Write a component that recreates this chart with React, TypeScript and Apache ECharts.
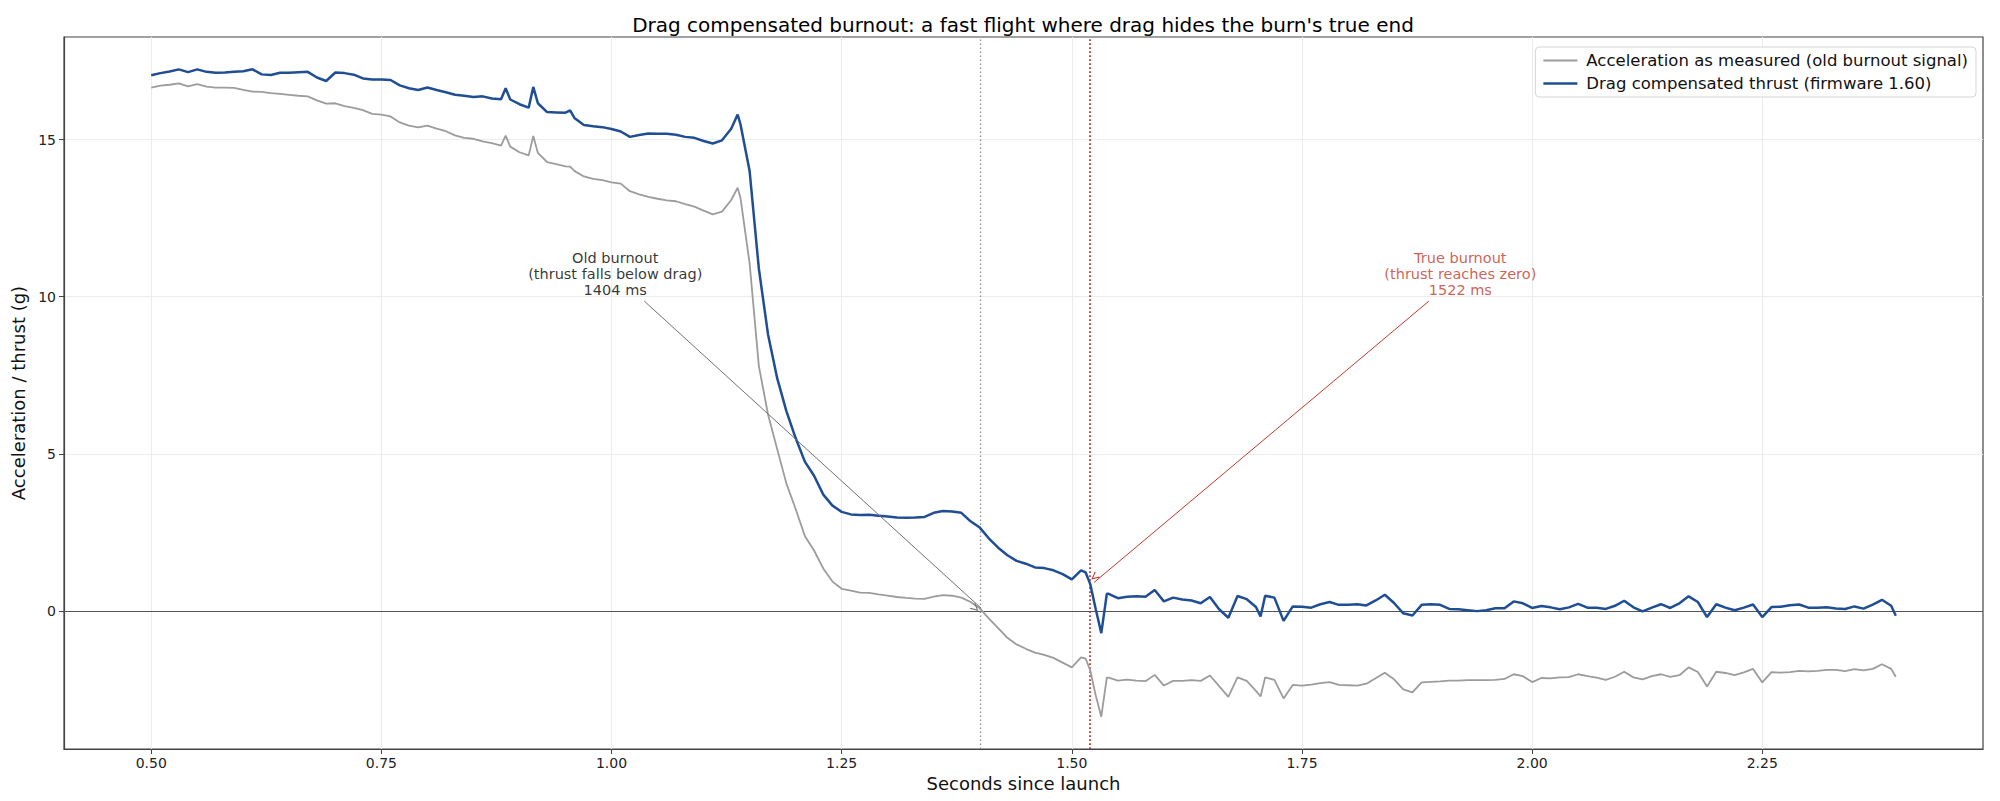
import { useEffect, useRef } from 'react'
import * as echarts from 'echarts'

const FONT = 'DejaVu Sans'
const TITLE = "Drag compensated burnout: a fast flight where drag hides the burn's true end"
const ACCEL_NAME = 'Acceleration as measured (old burnout signal)'
const THRUST_NAME = 'Drag compensated thrust (firmware 1.60)'

/** sample times, seconds since launch */
const T = [
  0.5, 0.51, 0.52, 0.53, 0.54, 0.55, 0.56, 0.57, 0.58, 0.59,
  0.6, 0.61, 0.62, 0.63, 0.64, 0.65, 0.66, 0.67, 0.68, 0.69,
  0.7, 0.71, 0.72, 0.73, 0.74, 0.75, 0.76, 0.77, 0.78, 0.79,
  0.8, 0.81, 0.82, 0.83, 0.84, 0.85, 0.86, 0.87, 0.88, 0.885,
  0.89, 0.9, 0.91, 0.915, 0.92, 0.93, 0.94, 0.95, 0.955, 0.96,
  0.97, 0.98, 0.99, 1.0, 1.01, 1.02, 1.03, 1.04, 1.05, 1.06,
  1.07, 1.08, 1.09, 1.1, 1.11, 1.12, 1.13, 1.137, 1.14, 1.15,
  1.16, 1.17, 1.18, 1.19, 1.2, 1.21, 1.22, 1.23, 1.24, 1.25,
  1.26, 1.27, 1.28, 1.29, 1.3, 1.31, 1.32, 1.33, 1.34, 1.35,
  1.36, 1.37, 1.38, 1.39, 1.4, 1.41, 1.42, 1.43, 1.44, 1.45,
  1.46, 1.47, 1.48, 1.49, 1.5, 1.51, 1.515, 1.52, 1.526, 1.532,
  1.538, 1.54, 1.55, 1.56, 1.57, 1.58, 1.59, 1.6, 1.61, 1.62,
  1.63, 1.64, 1.65, 1.66, 1.67, 1.68, 1.69, 1.7, 1.705, 1.71,
  1.72, 1.73, 1.74, 1.75, 1.76, 1.77, 1.78, 1.79, 1.8, 1.81,
  1.82, 1.83, 1.84, 1.85, 1.86, 1.87, 1.88, 1.89, 1.9, 1.91,
  1.92, 1.93, 1.94, 1.95, 1.96, 1.97, 1.98, 1.99, 2.0, 2.01,
  2.02, 2.03, 2.04, 2.05, 2.06, 2.07, 2.08, 2.09, 2.1, 2.11,
  2.12, 2.13, 2.14, 2.15, 2.16, 2.17, 2.18, 2.19, 2.2, 2.21,
  2.22, 2.23, 2.24, 2.25, 2.26, 2.27, 2.28, 2.29, 2.3, 2.31,
  2.32, 2.33, 2.34, 2.35, 2.36, 2.37, 2.38, 2.39, 2.395,
]

/** measured acceleration (g) */
const ACCEL = [
  16.66, 16.72, 16.75, 16.79, 16.7, 16.77, 16.69, 16.66, 16.66, 16.65,
  16.59, 16.53, 16.52, 16.48, 16.46, 16.43, 16.4, 16.38, 16.25, 16.15,
  16.16, 16.07, 16.01, 15.94, 15.82, 15.8, 15.74, 15.55, 15.45, 15.39,
  15.45, 15.35, 15.27, 15.14, 15.06, 15.03, 14.95, 14.89, 14.81, 15.13,
  14.78, 14.6, 14.5, 15.12, 14.58, 14.29, 14.22, 14.15, 14.14, 14.0,
  13.83, 13.75, 13.71, 13.64, 13.6, 13.36, 13.26, 13.18, 13.12, 13.07,
  13.04, 12.95, 12.87, 12.74, 12.62, 12.71, 13.08, 13.47, 13.16, 11.06,
  7.8, 6.25, 5.14, 4.05, 3.24, 2.38, 1.92, 1.35, 0.93, 0.7,
  0.64, 0.58, 0.57, 0.52, 0.48, 0.44, 0.41, 0.39, 0.38, 0.45,
  0.5, 0.48, 0.42, 0.28, 0.08, -0.25, -0.55, -0.86, -1.07, -1.21,
  -1.33, -1.4, -1.5, -1.65, -1.8, -1.48, -1.52, -1.9, -2.7, -3.37,
  -2.13, -2.13, -2.22, -2.19, -2.22, -2.24, -2.04, -2.38, -2.23, -2.23,
  -2.21, -2.23, -2.06, -2.4, -2.74, -2.12, -2.23, -2.55, -2.73, -2.12,
  -2.2, -2.79, -2.36, -2.38, -2.35, -2.3, -2.27, -2.36, -2.37, -2.38,
  -2.32, -2.15, -1.97, -2.18, -2.5, -2.6, -2.28, -2.26, -2.25, -2.22,
  -2.22, -2.21, -2.21, -2.21, -2.2, -2.17, -2.02, -2.08, -2.27, -2.14,
  -2.15, -2.12, -2.11, -2.02, -2.08, -2.13, -2.2, -2.1, -1.94, -2.12,
  -2.18, -2.08, -2.02, -2.1, -2.05, -1.8, -1.95, -2.41, -1.94, -1.98,
  -2.05, -1.96, -1.85, -2.28, -1.95, -1.97, -1.95, -1.91, -1.93, -1.91,
  -1.88, -1.88, -1.92, -1.86, -1.9, -1.85, -1.7, -1.85, -2.1,
]

/** drag compensated thrust (g) */
const THRUST = [
  17.05, 17.12, 17.17, 17.24, 17.15, 17.24, 17.16, 17.13, 17.14, 17.16,
  17.18, 17.24, 17.08, 17.06, 17.13, 17.13, 17.15, 17.16, 16.98, 16.87,
  17.14, 17.12, 17.07, 16.95, 16.92, 16.92, 16.9, 16.73, 16.64, 16.58,
  16.66, 16.58, 16.51, 16.43, 16.4, 16.36, 16.38, 16.31, 16.29, 16.64,
  16.28, 16.13, 16.02, 16.68, 16.16, 15.88, 15.87, 15.86, 15.93, 15.68,
  15.47, 15.43, 15.4, 15.34, 15.26, 15.09, 15.15, 15.2, 15.19, 15.19,
  15.16, 15.09, 15.06, 14.96, 14.88, 14.98, 15.35, 15.8, 15.5, 14.0,
  10.9, 8.8, 7.4, 6.35, 5.5, 4.75, 4.3, 3.7, 3.35, 3.15,
  3.07, 3.05, 3.06, 3.03, 3.0, 2.97, 2.96, 2.97, 2.99, 3.12,
  3.18, 3.16, 3.12, 2.85, 2.65, 2.3, 2.01, 1.77, 1.59, 1.5,
  1.38, 1.36, 1.29, 1.17, 1.0, 1.29, 1.22, 0.85, 0.05, -0.71,
  0.54, 0.54, 0.4, 0.45, 0.46, 0.45, 0.66, 0.3, 0.42, 0.36,
  0.33, 0.24, 0.44, 0.05, -0.22, 0.47, 0.37, 0.12, -0.18, 0.48,
  0.42, -0.32, 0.14, 0.13, 0.1, 0.21, 0.28, 0.19, 0.19, 0.21,
  0.17, 0.33, 0.51, 0.25, -0.08, -0.15, 0.19, 0.21, 0.19, 0.06,
  0.05, 0.02, -0.01, 0.02, 0.08, 0.08, 0.3, 0.24, 0.09, 0.15,
  0.11, 0.05, 0.11, 0.22, 0.1, 0.1, 0.06, 0.16, 0.32, 0.11,
  -0.02, 0.1, 0.21, 0.09, 0.24, 0.46, 0.28, -0.2, 0.21, 0.1,
  0.02, 0.1, 0.2, -0.2, 0.12, 0.13, 0.18, 0.2, 0.1, 0.1,
  0.11, 0.07, 0.06, 0.14, 0.07, 0.2, 0.35, 0.16, -0.16,
]

const X_TICKS = [0.5, 0.75, 1.0, 1.25, 1.5, 1.75, 2.0, 2.25]
const Y_TICKS = [0, 5, 10, 15]
const X_RANGE = [0.40525, 2.48975]
const Y_RANGE = [-4.4, 18.27]

const OLD_BURNOUT = 1.404
const TRUE_BURNOUT = 1.522

const NOTE_TEXT = [
  'Old burnout\n(thrust falls below drag)\n1404 ms',
  'True burnout\n(thrust reaches zero)\n1522 ms',
]
const NOTE_AT = [[1.004, 10.73], [1.922, 10.73]]
const ARROW_FROM = [[1.0356, 9.86], [1.8878, 9.86]]
const ARROW_TO = [[1.4014, 0.085], [1.524, 0.9]]

const BLUE = '#1f4e94'
const GREY = '#9c9c9c'
const RED = '#c0392b'
const NOTE_COLORS = ['#000000', RED]
const ARROW_COLORS = ['#707070', RED]

// open "->" style head, tip pointing up
const ARROW_HEAD = 'path://M5,0 L10,10 L8.6,10 L5,2.8 L1.4,10 L0,10 Z'

export default function App() {
  const ref = useRef<HTMLDivElement>(null)

  useEffect(() => {
    if (!ref.current) return
    const chart = echarts.init(ref.current, null, { renderer: 'svg' })

    const axisText = { fontFamily: FONT, fontSize: 14, color: '#222' }

    chart.setOption({
      animation: false,
      backgroundColor: '#ffffff',
      textStyle: { fontFamily: FONT },
      title: {
        text: TITLE,
        left: 1023,
        top: 15,
        padding: 0,
        textAlign: 'center',
        textStyle: { fontFamily: FONT, fontSize: 20, fontWeight: 'normal', color: '#000' },
      },
      grid: {
        left: 64,
        right: 17,
        top: 37,
        bottom: 52,
        show: true,
        borderColor: '#444',
        borderWidth: 1.2,
        backgroundColor: 'transparent',
      },
      legend: {
        // plain line handles, as thick as each series
        data: [
          { name: ACCEL_NAME, icon: 'path://M0,0H34V1.8H0Z' },
          { name: THRUST_NAME, icon: 'path://M0,0H34V2.5H0Z' },
        ],
        orient: 'vertical',
        right: 24,
        top: 47,
        selectedMode: false,
        symbolKeepAspect: true,
        itemWidth: 34,
        itemHeight: 12,
        itemGap: 6,
        padding: [5, 8, 5, 8],
        backgroundColor: 'rgba(255,255,255,0.85)',
        borderColor: '#d4d4d4',
        borderWidth: 1,
        borderRadius: 4,
        textStyle: { fontFamily: FONT, fontSize: 16.5, color: '#111', padding: [0, 0, 0, 4] },
      },
      xAxis: {
        type: 'value',
        min: X_RANGE[0],
        max: X_RANGE[1],
        name: 'Seconds since launch',
        nameLocation: 'middle',
        nameGap: 22,
        nameTextStyle: { fontFamily: FONT, fontSize: 18, color: '#111' },
        axisLine: { show: true, onZero: false, lineStyle: { color: '#444', width: 1.2 } },
        axisTick: { show: true, length: 5, customValues: X_TICKS, lineStyle: { color: '#444' } },
        axisLabel: {
          ...axisText,
          margin: 7,
          customValues: X_TICKS,
          formatter: (v: number) => v.toFixed(2),
        },
        splitLine: { show: true, lineStyle: { color: '#ececec', width: 1 } },
      },
      yAxis: {
        type: 'value',
        min: Y_RANGE[0],
        max: Y_RANGE[1],
        name: 'Acceleration / thrust (g)',
        nameLocation: 'middle',
        nameGap: 20,
        nameTextStyle: { fontFamily: FONT, fontSize: 18, color: '#111' },
        axisLine: { show: true, lineStyle: { color: '#444', width: 1.2 } },
        axisTick: { show: true, length: 5, customValues: Y_TICKS, lineStyle: { color: '#444' } },
        axisLabel: { ...axisText, margin: 8, customValues: Y_TICKS },
        splitLine: { show: true, lineStyle: { color: '#ececec', width: 1 } },
      },
      series: [
        {
          name: ACCEL_NAME,
          type: 'line',
          data: T.map((t, i) => [t, ACCEL[i]]),
          symbol: 'none',
          z: 3,
          lineStyle: { color: GREY, width: 1.8 },
          itemStyle: { color: GREY },
          markLine: {
            silent: true,
            symbol: 'none',
            z: 1,
            label: { show: false },
            data: [
              { yAxis: 0, lineStyle: { color: '#555', width: 1.2, type: 'solid' } },
              { xAxis: OLD_BURNOUT, lineStyle: { color: '#8c8c8c', width: 1.3, type: [1.5, 2.5] } },
              { xAxis: TRUE_BURNOUT, lineStyle: { color: RED, width: 1.8, type: [1.8, 2.2] } },
            ],
          },
        },
        {
          name: THRUST_NAME,
          type: 'line',
          data: T.map((t, i) => [t, THRUST[i]]),
          symbol: 'none',
          z: 4,
          lineStyle: { color: BLUE, width: 2.5 },
          itemStyle: { color: BLUE },
          markLine: {
            silent: true,
            symbol: ['none', ARROW_HEAD],
            symbolSize: 8,
            symbolOffset: [0, 4],
            z: 6,
            label: { show: false },
            data: ARROW_FROM.map((from, i) => [
              { coord: from, lineStyle: { color: ARROW_COLORS[i], width: 1, type: 'solid' }, itemStyle: { color: ARROW_COLORS[i] } },
              { coord: ARROW_TO[i], itemStyle: { color: ARROW_COLORS[i] } },
            ]),
          },
        },
        {
          name: '__notes',
          type: 'scatter',
          silent: true,
          symbolSize: 1,
          itemStyle: { color: 'rgba(0,0,0,0)' },
          z: 7,
          data: NOTE_AT.map((p, i) => ({
            value: p,
            label: {
              show: true,
              position: 'inside',
              formatter: NOTE_TEXT[i],
              fontFamily: FONT,
              fontSize: 14.5,
              lineHeight: 16,
              align: 'center',
              verticalAlign: 'middle',
              color: NOTE_COLORS[i],
            },
          })),
        },
      ],
    })

    return () => {
      chart.dispose()
    }
  }, [])

  return (
    <div
      ref={ref}
      style={{ position: 'absolute', left: 0, top: 0, width: 2000, height: 801 }}
    />
  )
}
